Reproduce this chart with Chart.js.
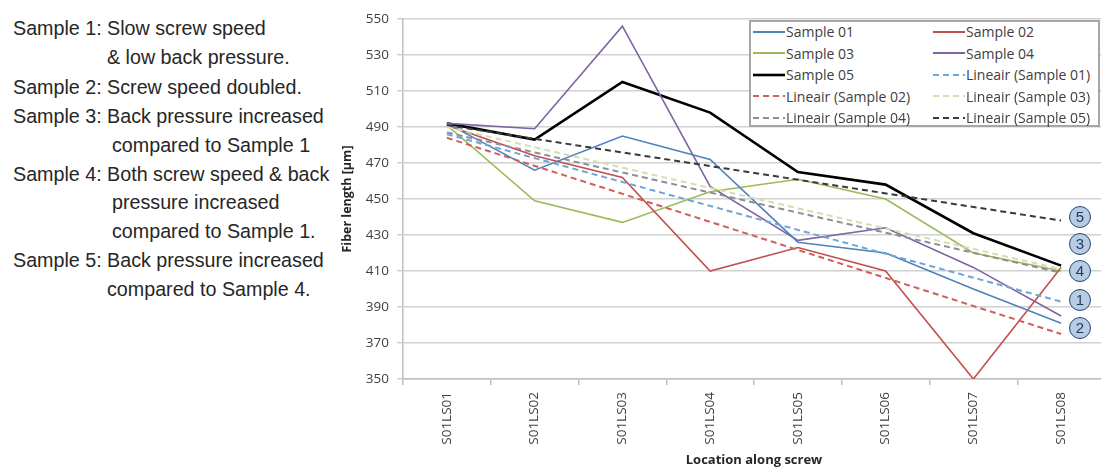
<!DOCTYPE html>
<html>
<head>
<meta charset="utf-8">
<title>Fiber length along screw</title>
<script src="https://cdn.jsdelivr.net/npm/chart.js@4.4.1/dist/chart.umd.min.js"></script>
<style>
    html, body { margin: 0; padding: 0; background: #fff; }
    body {
        width: 1101px; height: 469px; overflow: hidden; position: relative;
        font-family: "Liberation Sans", Arial, sans-serif;
    }
    .note {
        position: absolute; font-size: 19.7px; line-height: 29px;
        color: #262626; white-space: nowrap;
    }
    #chart-wrap { position: absolute; left: 335px; top: 0; width: 775px; height: 469px; }
    #legend {
        position: absolute; left: 749px; top: 20px; width: 345px; height: 103px;
        border: 2px solid #a6a6a6; background: #fff; padding-left: 2px;
        display: grid; grid-template-columns: 180px 163px; grid-auto-rows: 21.5px;
        font-family: "Open Sans", sans-serif; font-size: 14px; color: #404040;
    }
    .leg-item { display: flex; align-items: center; white-space: nowrap; margin-top: -2px; }
    .leg-item svg { margin-right: 1px; }
    .tag {
        position: absolute; left: 1069px; width: 20px; height: 20px; border-radius: 50%;
        background: #b8cce4; border: 1.5px solid #24466e; color: #1f3a5f;
        font-size: 15px; line-height: 20px; text-align: center;
    }
</style>
</head>
<body>

<div id="notes"></div>
<div id="chart-wrap"><canvas id="fiber-chart" width="775" height="469"></canvas></div>
<div id="legend"></div>
<div id="tags"></div>

<script>
////////////////////////////////////////////////////////////////////////////////
// Data
////////////////////////////////////////////////////////////////////////////////

const locations = ['S01LS01', 'S01LS02', 'S01LS03', 'S01LS04', 'S01LS05', 'S01LS06', 'S01LS07', 'S01LS08'];

const sample01 = [492, 466, 485, 472, 426, 420, 400, 381];
const sample02 = [491, 474, 462, 410, 423, 410, 350, 412];
const sample03 = [491, 449, 437, 454, 461, 450, 420, 410];
const sample04 = [492, 489, 546, 457, 427, 434, 412, 385];
const sample05 = [492, 483, 515, 498, 465, 458, 431, 413];

// Trend lines: only the two ends are read, the line is drawn straight between them
const trend01 = [486, null, null, null, null, null, null, 393];
const trend02 = [484, null, null, null, null, null, null, 375];
const trend03 = [490, null, null, null, null, null, null, 411];
const trend04 = [487, null, null, null, null, null, null, 409];
const trend05 = [491, null, null, null, null, null, null, 438];

const yTicks = [350, 370, 390, 410, 430, 450, 470, 490, 510, 530, 550];

// circled labels at the right end of the trend lines
const tagLabels = ['5', '3', '4', '1', '2'];

const noteLines = [
    'Sample 1: Slow screw speed',
    '& low back pressure.',
    'Sample 2: Screw speed doubled.',
    'Sample 3: Back pressure increased',
    'compared to Sample 1',
    'Sample 4: Both screw speed & back',
    'pressure increased',
    'compared to Sample 1.',
    'Sample 5: Back pressure increased',
    'compared to Sample 4.'
];

////////////////////////////////////////////////////////////////////////////////
// Side notes and number tags
////////////////////////////////////////////////////////////////////////////////

const noteLeft = [13, 107, 13, 13, 112, 13, 112, 112, 13, 107];
const noteMid = [28, 57, 87, 116.5, 145.5, 174, 202.5, 231, 260, 289];
noteLines.forEach((txt, i) => {
    const d = document.createElement('div');
    d.className = 'note';
    d.textContent = txt;
    d.style.left = noteLeft[i] + 'px';
    d.style.top = (noteMid[i] - 14.5) + 'px';
    document.getElementById('notes').appendChild(d);
});

const tagMid = [217, 244, 271, 300, 328];
tagLabels.forEach((t, i) => {
    const d = document.createElement('div');
    d.className = 'tag';
    d.textContent = t;
    d.style.top = (tagMid[i] - 11.5) + 'px';
    document.getElementById('tags').appendChild(d);
});

////////////////////////////////////////////////////////////////////////////////
// Chart.JS
////////////////////////////////////////////////////////////////////////////////

const FONT = '"Open Sans", sans-serif';
const DASH = [6, 4];

function solid(label, data, color, width) {
    return { label, data, borderColor: color, backgroundColor: color, borderWidth: width,
             pointRadius: 0, tension: 0, order: 1 };
}
function trend(label, data, color) {
    return { label, data, borderColor: color, backgroundColor: color, borderWidth: 2,
             borderDash: DASH, pointRadius: 0, spanGaps: true, order: 0 };
}

const datasets = [
    solid('Sample 01', sample01, '#4f81bd', 1.6),
    solid('Sample 02', sample02, '#c0504d', 1.6),
    solid('Sample 03', sample03, '#9bbb59', 1.6),
    solid('Sample 04', sample04, '#7f64a2', 1.6),
    solid('Sample 05', sample05, '#000000', 2.6),
    trend('Lineair (Sample 01)', trend01, '#6fa6d6'),
    trend('Lineair (Sample 02)', trend02, '#cf5f5a'),
    trend('Lineair (Sample 03)', trend03, '#d3dfae'),
    trend('Lineair (Sample 04)', trend04, '#8d8d99'),
    trend('Lineair (Sample 05)', trend05, '#3a3a3a')
];

const ctx = document.getElementById('fiber-chart').getContext('2d');

let fiberChart = new Chart(ctx, {
    type: 'line',
    data: { labels: locations, datasets: datasets },
    options: {
        responsive: false,
        animation: false,
        layout: { padding: { top: 19, right: 5, bottom: 0, left: 0 } },
        plugins: {
            legend: { display: false },
            tooltip: { enabled: false }
        },
        scales: {
            x: {
                offset: true,
                grid: { offset: true, drawOnChartArea: false, tickLength: 6, color: '#bfbfbf', lineWidth: 1.5 },
                border: { color: '#bfbfbf', width: 1.5 },
                ticks: { minRotation: 90, maxRotation: 90, padding: 7, color: '#404040',
                         font: { family: FONT, size: 13.5 } },
                title: { display: true, text: 'Location along screw', color: '#262626',
                         font: { family: FONT, size: 13, weight: 'bold' }, padding: { top: 0, bottom: 1 } },
                afterFit: (scale) => { scale.height = 90; }
            },
            y: {
                min: 350,
                max: 550,
                afterBuildTicks: (scale) => { scale.ticks = yTicks.map(v => ({ value: v })); },
                grid: { color: '#d0d0d0', lineWidth: 1.5, tickLength: 6 },
                border: { color: '#bfbfbf', width: 1.5 },
                ticks: { padding: 8, color: '#404040', font: { family: FONT, size: 13.5 } },
                title: { display: true, text: 'Fiber length [µm]', color: '#262626',
                         font: { family: FONT, size: 12.5, weight: 'bold' }, padding: { top: 5, bottom: 0 } },
                afterFit: (scale) => { scale.width = 68; }
            }
        }
    }
});

////////////////////////////////////////////////////////////////////////////////
// Legend (two columns, built from the datasets)
////////////////////////////////////////////////////////////////////////////////

const legendEl = document.getElementById('legend');
fiberChart.data.datasets.forEach(ds => {
    const item = document.createElement('div');
    item.className = 'leg-item';
    const dash = ds.borderDash ? ds.borderDash.join(' ') : 'none';
    item.innerHTML =
        `<svg width="32" height="6"><line x1="0" y1="3" x2="32" y2="3" stroke="${ds.borderColor}"
            stroke-width="${ds.borderWidth > 2 ? 2.6 : 2}" stroke-dasharray="${dash}"/></svg>` +
        `<span>${ds.label}</span>`;
    legendEl.appendChild(item);
});
</script>
</body>
</html>
